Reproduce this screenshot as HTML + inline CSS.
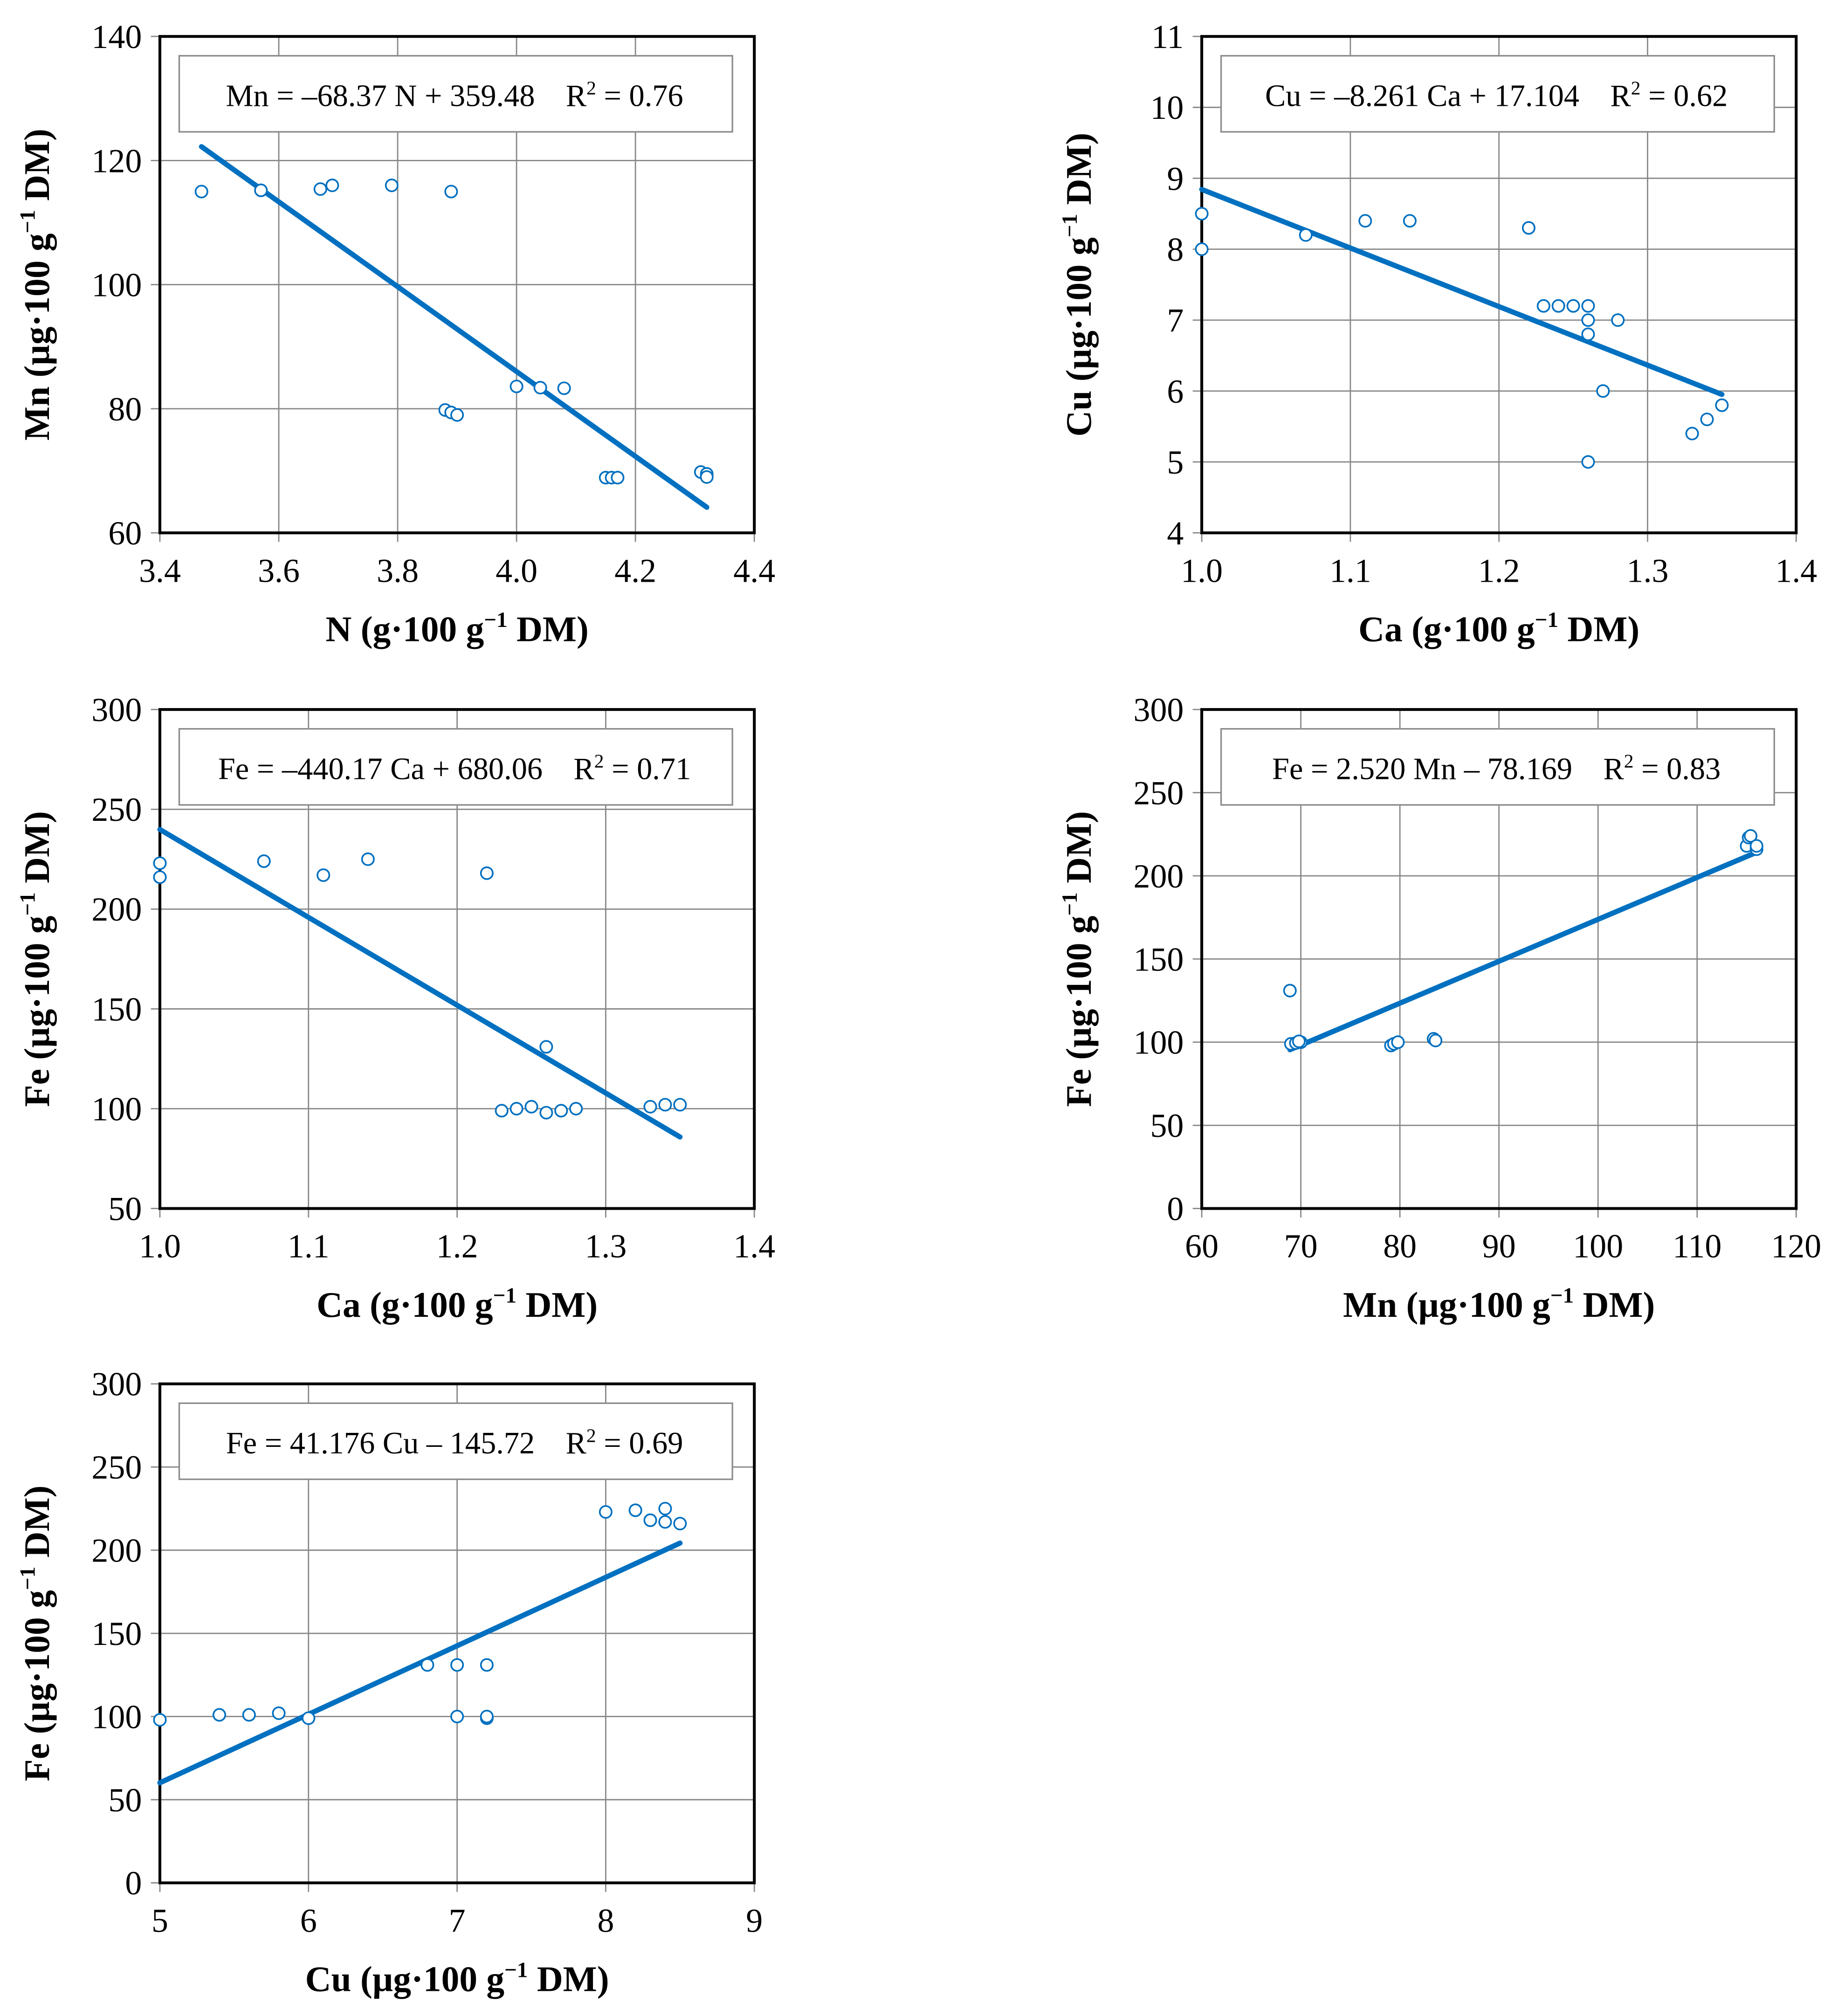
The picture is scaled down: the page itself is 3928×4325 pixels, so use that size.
<!DOCTYPE html>
<html><head><meta charset="utf-8">
<style>
html,body{margin:0;padding:0;background:#fff;}
svg{display:block;}
text{font-family:"Liberation Serif",serif;}
</style></head>
<body>
<svg id="fig" width="3928" height="4325" viewBox="0 0 1420 1563" xmlns="http://www.w3.org/2000/svg"></svg>
<script>
// Chart 1: N vs Mn
const c1X = [3.47,3.57,3.67,3.69,3.79,3.89,3.88,3.89,3.90,4.00,4.04,4.08,4.15,4.16,4.17,4.31,4.32,4.32];
const c1Y = [115,115.2,115.4,116,116,115,79.8,79.4,79,83.6,83.4,83.3,68.9,68.9,68.9,69.8,69.5,69];
const c1Fit = [-68.37, 359.48];
const c1XTicks = [3.4,3.6,3.8,4.0,4.2,4.4];
const c1YTicks = [60,80,100,120,140];
// Chart 2: Ca vs Cu
const c2X = [1.0,1.0,1.07,1.11,1.14,1.22,1.23,1.24,1.25,1.26,1.26,1.26,1.28,1.27,1.26,1.33,1.34,1.35];
const c2Y = [8.5,8.0,8.2,8.4,8.4,8.3,7.2,7.2,7.2,7.2,7.0,6.8,7.0,6.0,5.0,5.4,5.6,5.8];
const c2Fit = [-8.261, 17.104];
const c2XTicks = [1.0,1.1,1.2,1.3,1.4];
const c2YTicks = [4,5,6,7,8,9,10,11];
// Chart 3: Ca vs Fe
const c3X = [1.0,1.0,1.07,1.11,1.14,1.22,1.26,1.23,1.24,1.25,1.26,1.27,1.28,1.33,1.34,1.35];
const c3Y = [223,216,224,217,225,218,131,99,100,101,98,99,100,101,102,102];
const c3Fit = [-440.17, 680.06];
const c3XTicks = [1.0,1.1,1.2,1.3,1.4];
const c3YTicks = [50,100,150,200,250,300];
// Chart 4: Mn vs Fe
const c4X = [68.9,69,69.5,70,69.8,79.1,79.4,79.8,83.4,83.6,115,115.2,115.4,116,116];
const c4Y = [131,99,99.5,100,100.5,98,99,100,102,101,218,223,224,216,218];
const c4Fit = [2.520, -78.169];
const c4XTicks = [60,70,80,90,100,110,120];
const c4YTicks = [0,50,100,150,200,250,300];
// Chart 5: Cu vs Fe
const c5X = [5.0,5.4,5.6,5.8,6.0,6.8,7.0,7.2,7.0,7.2,7.2,8.0,8.2,8.3,8.4,8.4,8.5];
const c5Y = [98,101,101,102,99,131,131,131,100,99,100,223,224,218,225,217,216];
const c5Fit = [41.176, -145.72];
const c5XTicks = [5,6,7,8,9];
const c5YTicks = [0,50,100,150,200,250,300];

const NS = "http://www.w3.org/2000/svg";
const svg = document.getElementById('fig');
function mk(tag, attrs, parent){
  const e = document.createElementNS(NS, tag);
  for (const k in attrs) e.setAttribute(k, attrs[k]);
  (parent||svg).appendChild(e);
  return e;
}
function fmt(v, dec){ return v.toFixed(dec); }

function chart(cfg){
  const g = mk('g', {});
  
  
  const {x0,x1,y0,y1} = cfg;
  const xmin = cfg.xt[0], xmax = cfg.xt[cfg.xt.length-1];
  const ymin = cfg.yt[0], ymax = cfg.yt[cfg.yt.length-1];
  const sx = v => x0 + (v - xmin) / (xmax - xmin) * (x1 - x0);
  const sy = v => y1 - (v - ymin) / (ymax - ymin) * (y1 - y0);
  cfg.xt.forEach(t => {
    const l = mk('line', {x1:sx(t), x2:sx(t), y1:y0, y2:y1+7, stroke:'#878787', 'stroke-width':1}, g);
    
    
    const tx = mk('text', {x:sx(t), y:y1+38, 'font-size':26, 'text-anchor':'middle', fill:'#000'}, g);
    
    
    tx.textContent = fmt(t, cfg.xd);
  });
  cfg.yt.forEach(t => {
    const l = mk('line', {x1:x0-7, x2:x1, y1:sy(t), y2:sy(t), stroke:'#878787', 'stroke-width':1}, g);
    
    
    const tx = mk('text', {x:x0-14, y:sy(t)+9, 'font-size':26, 'text-anchor':'end', fill:'#000'}, g);
    
    
    tx.textContent = fmt(t, cfg.yd);
  });
  const fr = mk('rect', {x:x0, y:y0, width:x1-x0, height:y1-y0, fill:'none', stroke:'#000', 'stroke-width':2.2}, g);
  
  
  const bx = mk('rect', {x:x0+15, y:y0+15, width:x1-x0-32, height:59, fill:'#fff', stroke:'#8c8c8c', 'stroke-width':1.2}, g);
  
  
  const eq = mk('text', {x:(x0+x1)/2-2, y:y0+54, 'font-size':24, 'text-anchor':'middle', fill:'#000'}, g);
  
  
  eq.innerHTML = cfg.eq + '\u2003R<tspan font-size="15" dy="-9">2</tspan><tspan dy="9"> = ' + cfg.r2 + '</tspan>';
  const fx0 = Math.min(...cfg.xs), fx1 = Math.max(...cfg.xs);
  const f = v => cfg.fit[0]*v + cfg.fit[1];
  const ln = mk('line', {x1:sx(fx0), y1:sy(f(fx0)), x2:sx(fx1), y2:sy(f(fx1)), stroke:'#0070c0', 'stroke-width':4, 'stroke-linecap':'round'}, g);
  
  
  cfg.xs.forEach((v,i) => {
    const c = mk('circle', {cx:sx(v), cy:sy(cfg.ys[i]), r:4.6, fill:'#fff', stroke:'#0070c0', 'stroke-width':1.3}, g);
    
    
  });
  const xtl = mk('text', {x:(x0+x1)/2, y:y1+84, 'font-size':28, 'font-weight':'bold', 'text-anchor':'middle', fill:'#000'}, g);
  
  
  xtl.innerHTML = cfg.xl;
  const cy = (y0+y1)/2;
  const ytl = mk('text', {x:0, y:0, 'font-size':28, 'font-weight':'bold', 'text-anchor':'middle', fill:'#000', transform:`translate(${x0-86},${cy}) rotate(-90)`}, g);
  
  
  ytl.innerHTML = cfg.yl;
}
const gUnit = u => `${u} (g·100 g<tspan font-size="17" dy="-11">−1</tspan><tspan dy="11"> DM)</tspan>`;
const mUnit = u => `${u} (µg·100 g<tspan font-size="17" dy="-11">−1</tspan><tspan dy="11"> DM)</tspan>`;

chart({name:'chart-n-mn', x0:124,x1:585,y0:28,y1:413, xs:c1X, ys:c1Y, fit:c1Fit, xt:c1XTicks, yt:c1YTicks, xd:1, yd:0,
  eq:'Mn = –68.37 N + 359.48', r2:'0.76', xl:gUnit('N'), yl:mUnit('Mn')});
chart({name:'chart-ca-cu', x0:932,x1:1393,y0:28,y1:413, xs:c2X, ys:c2Y, fit:c2Fit, xt:c2XTicks, yt:c2YTicks, xd:1, yd:0,
  eq:'Cu = –8.261 Ca + 17.104', r2:'0.62', xl:gUnit('Ca'), yl:mUnit('Cu')});
chart({name:'chart-ca-fe', x0:124,x1:585,y0:550,y1:937, xs:c3X, ys:c3Y, fit:c3Fit, xt:c3XTicks, yt:c3YTicks, xd:1, yd:0,
  eq:'Fe = –440.17 Ca + 680.06', r2:'0.71', xl:gUnit('Ca'), yl:mUnit('Fe')});
chart({name:'chart-mn-fe', x0:932,x1:1393,y0:550,y1:937, xs:c4X, ys:c4Y, fit:c4Fit, xt:c4XTicks, yt:c4YTicks, xd:0, yd:0,
  eq:'Fe = 2.520 Mn – 78.169', r2:'0.83', xl:mUnit('Mn'), yl:mUnit('Fe')});
chart({name:'chart-cu-fe', x0:124,x1:585,y0:1073,y1:1460, xs:c5X, ys:c5Y, fit:c5Fit, xt:c5XTicks, yt:c5YTicks, xd:0, yd:0,
  eq:'Fe = 41.176 Cu – 145.72', r2:'0.69', xl:mUnit('Cu'), yl:mUnit('Fe')});
</script>
</body></html>
